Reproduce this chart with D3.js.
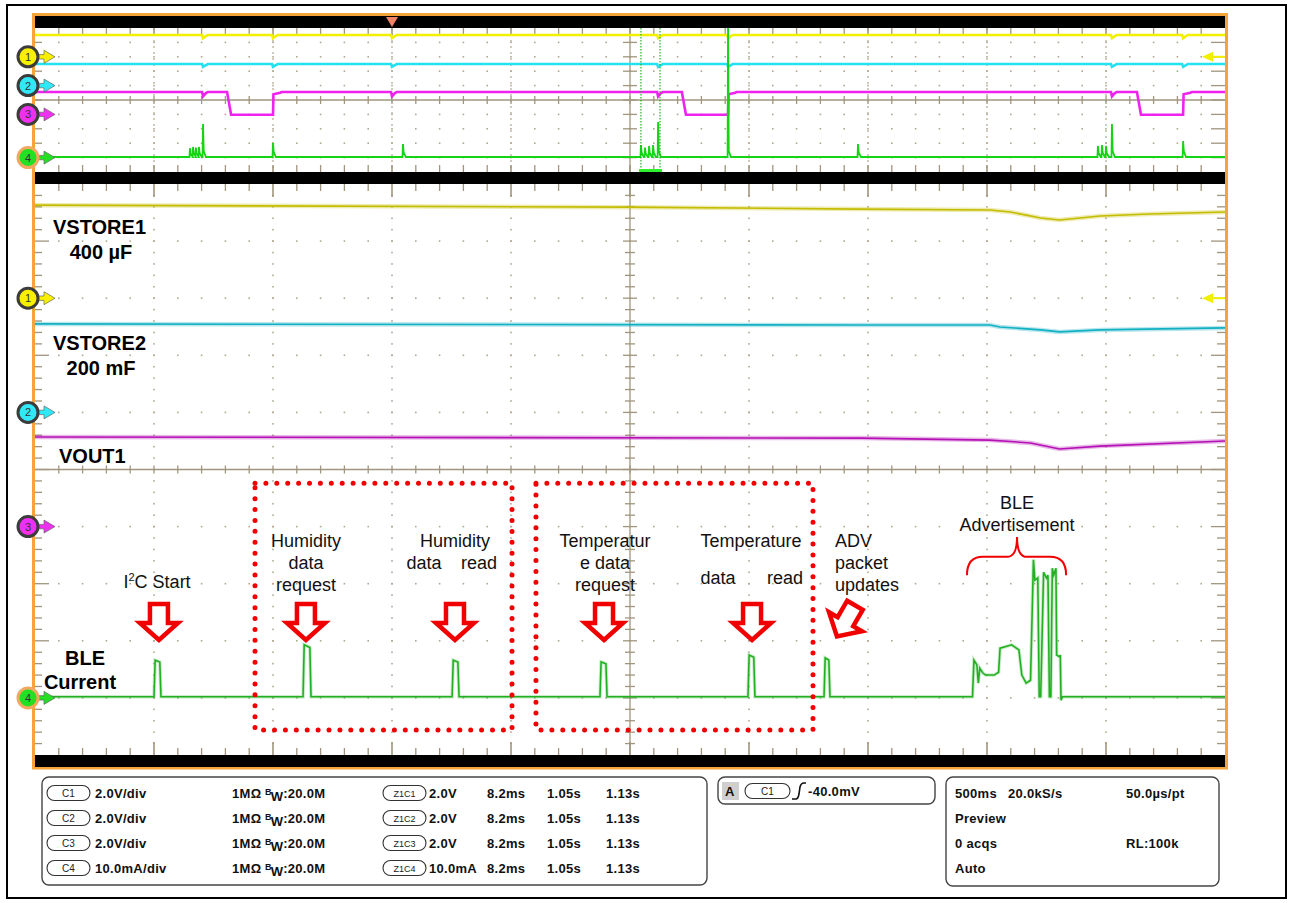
<!DOCTYPE html>
<html><head><meta charset="utf-8">
<script src="https://cdn.jsdelivr.net/npm/d3@7"></script>
<style>
body{margin:0;background:#fff}
svg{display:block}
text{font-family:"Liberation Sans",Arial,Helvetica,sans-serif}
</style>
</head><body>
<svg id="c" width="1293" height="903"></svg>
<script>
// ===================== DATA =====================
// Overview record (full acquisition): time in s, 500 ms/div
const ovCh1Level = 3.03, ovCh1Dip = 2.6;            // V
const ovCh2Level = 3.0,  ovCh2Dip = 2.6;            // V
const ovDipTimes = [0.706, 1.0, 1.5, 2.618, 2.912, 4.525, 4.824];
const ovCh3High = 3.11, ovCh3LowLevel = -0.05, ovCh3Hook = 2.8;
const ovCh3LowIntervals = [[0.807, 1.0], [2.718, 2.912], [4.630, 4.824]];
const ovCh3DipTimes = [0.706, 1.5, 2.618, 4.525];
const ovCh4Base = 0.4;                               // mA
const ovCh4Spikes = [
  [0.651, 6.5], [0.664, 7.4], [0.676, 7.0], [0.689, 7.4], [0.706, 23.3],
  [1.000, 10.1], [1.546, 9.4],
  [2.546, 8.7], [2.563, 7.0], [2.580, 8.1], [2.597, 8.7], [2.618, 24.7],
  [2.912, 95.0], [3.458, 9.4],
  [4.466, 8.1], [4.483, 8.7], [4.500, 8.1], [4.525, 23.3], [4.824, 11.5]
];
const ovTriggerTime = 1.5;
const ovZoomWindow = [2.546, 2.626];

// Zoomed (main) view: time in ms (8.2 ms/div)
const mainCh1 = [[0,3.26],[41.0,3.19],[56.9,3.12],[65.8,3.09],[67.2,3.02],[69.3,2.81],[70.6,2.74],[73.4,2.88],[76.8,2.95],[82,3.02]];
const mainCh2 = [[0,3.10],[56.9,3.06],[65.8,3.06],[66.5,2.99],[69.3,2.89],[70.6,2.82],[73.4,2.89],[82,2.96]];
const mainCh3 = [[0,3.14],[56.9,3.10],[65.8,3.03],[68.6,2.93],[70.6,2.72],[73.4,2.82],[82,3.00]];
const mainCh4Base = 0.2;   // mA
// I2C pulses: [start ms, end ms, peak mA]
const mainPulses = [[8.20,8.68,6.6],[18.47,19.02,9.3],[28.74,29.22,6.6],[38.93,39.42,6.3],[49.13,49.61,7.5],[54.37,54.78,7.0]];
// BLE advertisement burst: [ms, mA]
const bleAdv = [[64.6,0.2],[64.7,6.6],[64.9,5.8],[65.0,2.6],[65.1,5.2],[65.3,4.4],[65.5,4.0],[66.1,4.0],[66.4,4.5],[66.5,8.7],[67.3,9.3],[67.8,8.4],[68.0,4.0],[68.3,2.6],[68.6,3.1],[68.8,24.2],[68.9,20.6],[69.1,21.0],[69.2,0.2],[69.3,0.2],[69.5,22.0],[69.7,21.0],[69.8,21.5],[69.9,0.2],[70.0,0.2],[70.1,22.7],[70.2,21.5],[70.35,22.7],[70.4,7.5],[70.6,7.2],[70.65,7.5],[70.7,-0.4],[70.8,0.2]];

// Annotations (main view units: ms, mA)
const arrowCenters = [[8.54,13.3,0],[18.67,13.3,0],[28.94,13.3,0],[39.21,13.3,0],[49.41,13.3,0],[55.88,13.5,30]];
const annoTexts = [
  {t:18.67, mA:26.4, lines:["Humidity","data","request"]},
  {t:28.94, mA:26.4, lines:["Humidity"]},
  {t:26.81, mA:22.55, lines:["data"]},
  {t:30.60, mA:22.55, lines:["read"]},
  {t:39.28, mA:26.4, lines:["Temperatur","e data","request"]},
  {t:49.34, mA:26.4, lines:["Temperature"]},
  {t:47.06, mA:19.9, lines:["data"]},
  {t:51.68, mA:19.9, lines:["read"]},
  {t:67.67, mA:33.1, lines:["BLE","Advertisement"]}
];
const advText = {t:55.13, mA:26.4, lines:["ADV","packet","updates"]};
const i2cText = {t:8.41, mA:19.2};
const dottedBoxes = [[15.16,32.87,-5.6,37.6],[34.52,53.61,-5.6,37.6]];
const brace = {t0:64.22, t1:71.05, tc:67.67, ends:21.5, bar:24.7, tip:28.2};

// Channel labels on screen
const leftLabels = [
  {text:"VSTORE1", x:53, y:234, anchor:"start"},
  {text:"400 µF", x:101, y:259, anchor:"middle"},
  {text:"VSTORE2", x:53, y:350, anchor:"start"},
  {text:"200 mF", x:101, y:375, anchor:"middle"},
  {text:"VOUT1", x:59, y:463, anchor:"start"},
  {text:"BLE", x:85, y:665, anchor:"middle"},
  {text:"Current", x:80, y:689, anchor:"middle"}
];

// Readout panel
const chanNames = ["C1","C2","C3","C4"];
const chanScales = ["2.0V/div","2.0V/div","2.0V/div","10.0mA/div"];
const chanImpedance = "1MΩ";
const chanBW = "20.0M";
const zoomNames = ["Z1C1","Z1C2","Z1C3","Z1C4"];
const zoomScales = ["2.0V","2.0V","2.0V","10.0mA"];
const zoomTimes = ["8.2ms","1.05s","1.13s"];
const trigSource = "C1", trigLevel = "-40.0mV";
const acqRows = [["500ms","20.0kS/s","50.0µs/pt"],["Preview","",""],["0 acqs","","RL:100k"],["Auto","",""]];

// ===================== DRAW =====================
const svg = d3.select("#c");
const PX0 = 35, PX1 = 1225;
const OV = [28, 172], MN = [184, 755];

const xOv = d3.scaleLinear().domain([0,5]).range([PX0,PX1]);
const xMn = d3.scaleLinear().domain([0,82]).range([PX0,PX1]);
const xDiv = d3.scaleLinear().domain([0,10]).range([PX0,PX1]);
const yOvDiv = d3.scaleLinear().domain([-5,5]).range([OV[1],OV[0]]);
const yMnDiv = d3.scaleLinear().domain([-5,5]).range([MN[1],MN[0]]);
const chOffset = [3,1,-1,-4], chPerDiv = [2,2,2,10];
const yCh = (ys,k) => v => ys(chOffset[k] + v/chPerDiv[k]);

const ovColors = ["#f2f000","#22e2f2","#f022f0","#14d414"];
const mnColors = ["#c4bc00","#12b0c2","#b412b4","#22b022"];
const markerFill = ["#f8f000","#30e8f8","#f030f0","#22e022"];
const GRID = "#b2a892", TICK = "#a0957e";

// frames
svg.append("rect").attr("x",7).attr("y",5).attr("width",1279).attr("height",893)
  .attr("fill","none").attr("stroke","#000").attr("stroke-width",2);
svg.append("rect").attr("x",33.5).attr("y",14.5).attr("width",1193).attr("height",753.5)
  .attr("fill","none").attr("stroke","#f4a43a").attr("stroke-width",3);

const defs = svg.append("defs");
defs.append("clipPath").attr("id","clipOv").append("rect").attr("x",PX0).attr("y",OV[0]).attr("width",PX1-PX0).attr("height",OV[1]-OV[0]);
defs.append("clipPath").attr("id","clipMn").append("rect").attr("x",PX0).attr("y",MN[0]).attr("width",PX1-PX0).attr("height",MN[1]-MN[0]);

function ticks(g, ys, yr, cfg){
  const minorX = d3.range(1,50).map(i=>i/5);
  const majorX = d3.range(1,10);
  if (cfg.dotVert){
    const minorY = d3.range(-24,25).map(i=>i/5);
    majorX.filter(i=>i!==5).forEach(i=>{
      minorY.forEach(j=>{ g.append("rect").attr("x",xDiv(i)-0.8).attr("y",ys(j)-0.8).attr("width",1.6).attr("height",1.6).attr("fill",GRID); });
    });
  } else {
    majorX.filter(i=>i!==5).forEach(i=>{
      g.append("line").attr("x1",xDiv(i)).attr("x2",xDiv(i)).attr("y1",yr[0]).attr("y2",yr[1])
        .attr("stroke",GRID).attr("stroke-width",1.2).attr("stroke-dasharray","2,4");
    });
  }
  d3.range(-4,5).filter(j=>j!==0).forEach(j=>{
    minorX.forEach(i=>{ g.append("rect").attr("x",xDiv(i)-0.8).attr("y",ys(j)-0.8).attr("width",1.6).attr("height",1.6).attr("fill",GRID); });
  });
  g.append("line").attr("x1",PX0).attr("x2",PX1).attr("y1",ys(0)).attr("y2",ys(0)).attr("stroke",TICK).attr("stroke-width",1.3);
  g.append("line").attr("x1",xDiv(5)).attr("x2",xDiv(5)).attr("y1",yr[0]).attr("y2",yr[1]).attr("stroke",TICK).attr("stroke-width",1.3);
  const tk = (x1,y1,x2,y2,w)=>g.append("line").attr("x1",x1).attr("y1",y1).attr("x2",x2).attr("y2",y2).attr("stroke",TICK).attr("stroke-width",w||1.3);
  minorX.forEach(i=>{
    const x = xDiv(i), maj = Math.abs(i-Math.round(i))<1e-6;
    tk(x, ys(0)-4, x, ys(0)+4);
    tk(x, yr[0], x, yr[0]+(maj?cfg.majLen:7), maj?1.6:1.3);
    tk(x, yr[1], x, yr[1]-(maj?cfg.majLen:7), maj?1.6:1.3);
  });
  const yTicks = cfg.minorY ? d3.range(-24,25).map(j=>j/5) : d3.range(-4,5);
  yTicks.forEach(j=>{
    const y = ys(j), maj = Math.abs(j-Math.round(j))<1e-6;
    tk(xDiv(5)-(maj?7:5), y, xDiv(5)+(maj?7:5), y);
    tk(PX0, y, PX0+(maj?cfg.leftMaj:7), y);
    tk(PX1, y, PX1-(maj?14:8), y);
  });
}

const gOv = svg.append("g");
ticks(gOv, yOvDiv, OV, {dotVert:false, minorY:false, majLen:7, leftMaj:7});
const gMn = svg.append("g");
ticks(gMn, yMnDiv, MN, {dotVert:true, minorY:true, majLen:13, leftMaj:14});

// black bars
[[16,12],[172,12],[755,12]].forEach(b=>svg.append("rect").attr("x",PX0).attr("y",b[0]).attr("width",PX1-PX0).attr("height",b[1]).attr("fill","#000"));

// trigger marker
svg.append("path").attr("d",`M${xOv(ovTriggerTime)-6},17 L${xOv(ovTriggerTime)+6},17 L${xOv(ovTriggerTime)},27 Z`).attr("fill","#f28468");

// ---------- overview traces ----------
function dipSeries(base, dip, times){
  const pts = [[0,base]];
  times.forEach(t=>pts.push([t-0.004,base],[t,dip],[t+0.012,base-0.15],[t+0.02,base]));
  pts.push([5,base]);
  return pts;
}
const ovS1 = dipSeries(ovCh1Level, ovCh1Dip, ovDipTimes);
const ovS2 = dipSeries(ovCh2Level, ovCh2Dip, ovDipTimes);
let ovS3 = [[0,ovCh3High],[5,ovCh3High]];
ovCh3DipTimes.forEach(t=>ovS3.push([t-0.004,ovCh3High],[t,ovCh3Hook-0.3],[t+0.012,ovCh3High-0.15],[t+0.02,ovCh3High]));
ovCh3LowIntervals.forEach(([f,r])=>ovS3.push([f,ovCh3High],[f+0.017,ovCh3LowLevel],[r,ovCh3LowLevel],[r+0.002,ovCh3Hook],[r+0.03,ovCh3High-0.1],[r+0.036,ovCh3High]));
ovS3.sort((a,b)=>a[0]-b[0]);
let ovS4 = [[0,ovCh4Base]];
ovCh4Spikes.forEach(([t,p])=>ovS4.push([t-0.002,ovCh4Base],[t,p],[t+0.003,Math.min(p,12)*0.35+ovCh4Base],[t+0.012,ovCh4Base]));
ovS4.push([5,ovCh4Base]);

const gOvT = svg.append("g").attr("clip-path","url(#clipOv)");
[ovS1,ovS2,ovS3,ovS4].forEach((s,k)=>{
  const line = d3.line().x(d=>xOv(d[0])).y(d=>yCh(yOvDiv,k)(d[1]));
  gOvT.append("path").attr("d",line(s)).attr("fill","none").attr("stroke",ovColors[k]).attr("stroke-width",k===3?1.8:2.6);
});
ovZoomWindow.forEach(t=>gOvT.append("line").attr("x1",xOv(t)).attr("x2",xOv(t)).attr("y1",OV[0]).attr("y2",OV[1])
  .attr("stroke","#22b022").attr("stroke-width",1.2).attr("stroke-dasharray","1.5,1.5"));
svg.append("rect").attr("x",xOv(ovZoomWindow[0])-2).attr("y",OV[1]-3).attr("width",xOv(ovZoomWindow[1])-xOv(ovZoomWindow[0])+4).attr("height",3).attr("fill","#30f030");

// ---------- main traces ----------
let mnS4 = [[0,mainCh4Base]];
mainPulses.forEach(([s,e,p])=>mnS4.push([s,mainCh4Base],[s+0.08,p],[e-0.08,p*0.95],[e,mainCh4Base]));
bleAdv.forEach(d=>mnS4.push(d));
mnS4.push([82,mainCh4Base]);

const gMnT = svg.append("g").attr("clip-path","url(#clipMn)");
[mainCh1,mainCh2,mainCh3,mnS4].forEach((s,k)=>{
  const line = d3.line().x(d=>xMn(d[0])).y(d=>yCh(yMnDiv,k)(d[1]));
  if (k<3) gMnT.append("path").attr("d",line(s)).attr("fill","none").attr("stroke",mnColors[k]).attr("stroke-width",4.5).attr("stroke-opacity",0.3);
  else gMnT.append("path").attr("d",line(s)).attr("fill","none").attr("stroke",mnColors[k]).attr("stroke-width",3.5).attr("stroke-opacity",0.25);
  gMnT.append("path").attr("d",line(s)).attr("fill","none").attr("stroke",mnColors[k]).attr("stroke-width",1.6);
});

// ---------- channel markers ----------
function chanMarker(y,k){
  const gm = svg.append("g").attr("transform",`translate(28,${y})`);
  gm.append("path").attr("d","M8,-2.2 L16,-2.2 L16,-6.5 L27,0 L16,6.5 L16,2.2 L8,2.2Z")
    .attr("fill",markerFill[k]).attr("stroke","#666").attr("stroke-width",0.7);
  gm.append("circle").attr("r",10).attr("fill",markerFill[k]).attr("stroke",k===3?"#f2a860":"#3c3c3c").attr("stroke-width",3);
  gm.append("text").text(k+1).attr("text-anchor","middle").attr("dy","0.36em").attr("font-size",11).attr("fill","#333");
}
[0,1,2,3].forEach(k=>chanMarker(yOvDiv(chOffset[k]),k));
[0,1,2,3].forEach(k=>chanMarker(yMnDiv(chOffset[k]),k));
[yOvDiv(chOffset[0]), yMnDiv(chOffset[0])].forEach(y=>{
  svg.append("path").attr("d",`M${PX1-23},${y} L${PX1-12},${y-5} L${PX1-12},${y+5} Z`).attr("fill","#f2f000");
  svg.append("line").attr("x1",PX1-13).attr("x2",PX1).attr("y1",y).attr("y2",y).attr("stroke","#f2f000").attr("stroke-width",2);
});

// ---------- left labels ----------
leftLabels.forEach(l=>svg.append("text").text(l.text).attr("x",l.x).attr("y",l.y).attr("text-anchor",l.anchor)
  .attr("font-size",20).attr("font-weight","bold").attr("fill","#000"));

// ---------- annotations ----------
const yA = yCh(yMnDiv,3);
const RED = "#f00000";
const AF = 18;
dottedBoxes.forEach(([t0,t1,a0,a1])=>{
  const x0=xMn(t0), x1=xMn(t1), y0=yA(a1), y1=yA(a0);
  svg.append("path").attr("d",`M${x0},${y0} L${x1},${y0} L${x1},${y1} L${x0},${y1} Z`)
    .attr("fill","none").attr("stroke",RED).attr("stroke-width",5).attr("stroke-linecap","round").attr("stroke-dasharray","0,10.9");
});
arrowCenters.forEach(([t,a,rot])=>{
  svg.append("path").attr("transform",`translate(${xMn(t)},${yA(a)}) rotate(${rot})`)
    .attr("d","M-9,-18 L9,-18 L9,1 L19,1 L0,18 L-19,1 L-9,1 Z")
    .attr("fill","#fff").attr("stroke",RED).attr("stroke-width",4.5).attr("stroke-linejoin","miter");
});
function multiText(o, anchor){
  const t = svg.append("text").attr("x",xMn(o.t)).attr("y",yA(o.mA)).attr("text-anchor",anchor).attr("font-size",AF).attr("fill","#111");
  o.lines.forEach((s,i)=>t.append("tspan").attr("x",xMn(o.t)).attr("dy",i===0?0:22).text(s));
}
annoTexts.forEach(o=>multiText(o,"middle"));
multiText(advText,"start");
{
  const t = svg.append("text").attr("x",xMn(i2cText.t)).attr("y",yA(i2cText.mA)).attr("text-anchor","middle").attr("font-size",AF).attr("fill","#111");
  t.append("tspan").text("I");
  t.append("tspan").text("2").attr("font-size",11).attr("dy",-7);
  t.append("tspan").text("C Start").attr("dy",7);
}
{
  const x0=xMn(brace.t0), x1=xMn(brace.t1), xc=xMn(brace.tc), ye=yA(brace.ends), yb=yA(brace.bar), yt=yA(brace.tip);
  svg.append("path").attr("d",`M${x0},${ye} Q${x0},${yb} ${x0+16},${yb} L${xc-10},${yb} Q${xc},${yb} ${xc},${yt} Q${xc},${yb} ${xc+10},${yb} L${x1-16},${yb} Q${x1},${yb} ${x1},${ye}`)
    .attr("fill","none").attr("stroke",RED).attr("stroke-width",2);
}

// ---------- readout panel ----------
const F = 13;
function box(x,y,w,h){ svg.append("rect").attr("x",x).attr("y",y).attr("width",w).attr("height",h).attr("rx",7).attr("fill","#fff").attr("stroke","#444").attr("stroke-width",1.4); }
function pill(x,yc,w,label,fs){
  svg.append("rect").attr("x",x).attr("y",yc-7.5).attr("width",w).attr("height",15).attr("rx",7.5).attr("fill","#fff").attr("stroke","#333").attr("stroke-width",1.1);
  svg.append("text").text(label).attr("x",x+w/2).attr("y",yc+3.5).attr("text-anchor","middle").attr("font-size",fs).attr("fill","#222");
}
function bt(s,x,y){ return svg.append("text").text(s).attr("x",x).attr("y",y).attr("font-size",F).attr("font-weight","bold").attr("fill","#111").attr("letter-spacing",0.3); }
box(42,777,665,108);
box(718,777,217,27);
box(946,777,273,109);
const rowY = [793,818,843,868];
rowY.forEach((yc,i)=>{
  pill(47,yc,43,chanNames[i],10);
  bt(chanScales[i],95,yc+4.5);
  bt(chanImpedance,232,yc+4.5);
  const b = svg.append("text").attr("x",265).attr("y",yc+4.5).attr("font-size",F).attr("font-weight","bold").attr("fill","#111").attr("letter-spacing",0.3);
  b.append("tspan").text("B").attr("font-size",9).attr("dy",-3);
  b.append("tspan").text("W").attr("dx",-1).attr("dy",6);
  b.append("tspan").text(":"+chanBW).attr("dy",-3);
  pill(383,yc,43,zoomNames[i],9);
  bt(zoomScales[i],429,yc+4.5);
  zoomTimes.forEach((s,j)=>bt(s,[487,547,606][j],yc+4.5));
});
svg.append("rect").attr("x",722).attr("y",782).attr("width",17).attr("height",18).attr("fill","#cfcfcf");
bt("A",725,796);
pill(745,791,45,trigSource,10);
svg.append("path").attr("d","M792,799 L796,799 Q798,799 799,794 L800,787 Q801,783 804,783 L806,783").attr("fill","none").attr("stroke","#111").attr("stroke-width",1.6);
bt(trigLevel,808,796);
acqRows.forEach((r,i)=>{
  const y = rowY[i]+4.5;
  if (r[0]) bt(r[0],955,y);
  if (r[1]) bt(r[1],1008,y);
  if (r[2]) bt(r[2],1126,y);
});
</script>
</body></html>
